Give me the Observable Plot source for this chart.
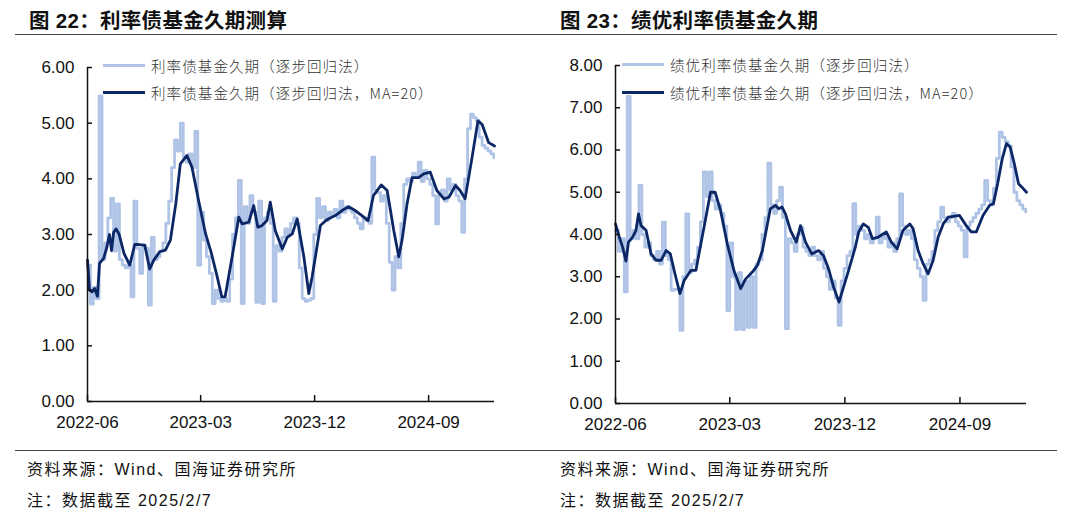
<!DOCTYPE html>
<html><head><meta charset="utf-8">
<script src="https://cdn.jsdelivr.net/npm/d3@7"></script>
<script src="https://cdn.jsdelivr.net/npm/@observablehq/plot@0.6"></script>
<style>
body{margin:0;background:#fff;width:1080px;height:522px;overflow:hidden;position:relative;font-family:"Liberation Sans","Noto Sans CJK SC",sans-serif;}
.title{position:absolute;top:4px;font-size:20.5px;font-weight:700;color:#111;white-space:nowrap;letter-spacing:0.3px;}
.rule{position:absolute;left:15px;width:1042px;height:0;border-top:1.5px solid #444;}
.src{position:absolute;font-size:16px;letter-spacing:1.5px;color:#111;white-space:nowrap;line-height:20px;}
.chart{position:absolute;top:40px;}
.leg{position:absolute;font-size:14.5px;letter-spacing:1.1px;color:#333;display:flex;align-items:center;white-space:nowrap;height:20px;font-family:"Noto Sans CJK SC","Liberation Sans",sans-serif;font-weight:300;}
.sw{display:inline-block;width:42px;height:3px;margin-right:6px;}
</style></head>
<body>
<div class="title" style="left:29px">图 22：利率债基金久期测算</div>
<div class="title" style="left:560px">图 23：绩优利率债基金久期</div>
<div class="rule" style="top:34px"></div>
<div class="rule" style="top:450px"></div>
<div id="c22" class="chart" style="left:0px"></div>
<div id="c23" class="chart" style="left:540px"></div>
<div id="leg22"></div><div id="leg23"></div>
<div class="src" style="left:27px;top:460px">资料来源：Wind、国海证券研究所</div>
<div class="src" style="left:27px;top:491px">注：数据截至 2025/2/7</div>
<div class="src" style="left:560px;top:460px">资料来源：Wind、国海证券研究所</div>
<div class="src" style="left:560px;top:491px">注：数据截至 2025/2/7</div>
<script>
const startDate = "2022-06-01";
const endDate = "2025-02-07";
const rawStepDays = 7;
const xTicks = ["2022-06-01","2023-03-01","2023-12-01","2024-09-01"];
const yTicks22 = [0,1,2,3,4,5,6];
const yTicks23 = [0,1,2,3,4,5,6,7,8];
const legend22 = ["利率债基金久期（逐步回归法）","利率债基金久期（逐步回归法，MA=20）"];
const legend23 = ["绩优利率债基金久期（逐步回归法）","绩优利率债基金久期（逐步回归法，MA=20）"];

// 图22 raw (weekly from startDate)
const raw22 = [2.45,1.75,2.05,1.85,5.49,2.55,2.85,3.30,3.65,2.70,
3.55,2.55,2.45,2.40,2.45,1.88,3.60,2.75,2.30,2.80,
2.75,1.73,2.95,2.55,2.60,2.70,2.85,3.20,3.60,4.20,
4.70,4.50,5.00,4.40,4.30,4.45,4.20,4.85,2.45,3.40,
2.90,2.60,2.30,1.76,2.00,1.85,1.80,1.85,1.80,2.20,
3.00,3.30,3.97,1.76,3.50,3.20,3.70,3.40,1.78,3.60,
1.76,3.30,3.40,3.20,1.80,2.80,2.70,2.95,3.10,3.00,
3.20,3.30,3.20,2.40,1.85,1.80,1.82,1.85,3.00,3.65,
3.30,3.50,3.25,3.40,3.35,3.45,3.30,3.60,3.40,3.50,
3.45,3.40,3.30,3.20,3.10,3.30,3.25,3.20,4.39,3.80,
3.75,3.60,3.70,3.20,2.50,2.00,2.60,2.40,3.20,3.90,
4.00,3.95,4.10,4.05,4.30,3.95,4.15,4.00,3.90,3.70,
3.19,3.70,3.80,3.60,4.00,3.80,3.90,3.70,3.60,3.04,
4.00,4.90,5.16,5.10,5.05,4.75,4.60,4.55,4.50,4.45,
4.38];
const maDates22 = ["2022-06-01","2022-06-06","2022-06-12","2022-06-18","2022-06-25","2022-06-30","2022-07-10","2022-07-18","2022-07-24","2022-07-29",
"2022-08-03","2022-08-09","2022-08-16","2022-08-28","2022-09-11","2022-09-23","2022-10-03","2022-10-17","2022-10-29","2022-11-08",
"2022-11-22","2022-12-06","2022-12-18","2022-12-31","2023-01-11","2023-01-27","2023-02-08","2023-02-24","2023-03-13","2023-03-27",
"2023-04-10","2023-04-21","2023-04-29","2023-05-16","2023-06-01","2023-06-09","2023-06-25","2023-07-07","2023-07-17","2023-07-27",
"2023-08-08","2023-08-16","2023-08-28","2023-09-14","2023-09-26","2023-10-08","2023-10-20","2023-11-05","2023-11-17","2023-11-25",
"2023-12-15","2023-12-28","2024-01-11","2024-01-20","2024-02-05","2024-02-21","2024-03-08","2024-03-24","2024-04-08","2024-04-21",
"2024-05-10","2024-05-24","2024-06-09","2024-06-21","2024-06-29","2024-07-11","2024-07-23","2024-08-08","2024-08-20","2024-09-05",
"2024-09-21","2024-10-08","2024-10-20","2024-11-05","2024-11-16","2024-11-28","2024-12-15","2024-12-29","2025-01-08","2025-01-24",
"2025-02-07"];
const ma22 = [2.54,2.00,1.97,2.03,1.89,2.48,2.57,2.78,3.00,2.71,
3.04,3.10,3.01,2.66,2.45,2.82,2.82,2.81,2.38,2.54,
2.69,2.72,2.90,3.55,4.27,4.42,4.21,3.61,3.01,2.66,
2.24,1.88,1.88,2.60,3.31,3.19,3.22,3.52,3.13,3.16,
3.25,3.58,3.07,2.74,2.95,3.01,3.28,2.60,1.94,2.24,
3.16,3.25,3.31,3.34,3.43,3.50,3.43,3.34,3.25,3.70,
3.89,3.79,3.07,2.60,2.90,3.55,4.02,4.02,4.09,4.12,
3.79,3.64,3.67,3.88,3.79,3.64,4.39,5.04,4.98,4.65,
4.59];

// 图23 raw (weekly from startDate)
const raw23 = [4.10,3.60,3.90,2.64,7.27,3.90,4.10,3.90,5.16,4.00,
3.70,3.80,3.50,3.40,3.60,3.30,4.29,3.50,3.40,2.68,
2.70,2.70,1.73,3.00,4.49,3.10,3.30,3.40,3.70,4.30,
5.48,4.90,5.48,4.80,4.60,4.70,4.50,4.20,2.20,3.80,
3.00,1.75,3.10,1.75,2.90,1.80,3.00,1.80,3.30,3.40,
4.00,4.40,5.69,4.70,4.50,4.80,5.12,4.40,1.77,3.90,
3.80,3.60,4.00,4.17,3.70,3.60,3.50,3.70,3.50,3.40,
3.60,3.20,3.00,2.70,2.90,2.50,1.85,2.90,3.20,3.50,
3.60,4.73,4.00,4.20,4.10,3.90,4.00,3.80,3.90,4.41,
3.80,4.00,3.90,3.70,3.80,3.60,3.90,4.96,4.20,4.00,
4.10,3.90,3.40,3.20,3.00,2.44,3.30,3.40,3.60,4.10,
4.30,4.65,4.40,4.30,4.40,4.50,4.30,4.20,4.10,3.47,
4.20,4.30,4.40,4.50,4.60,4.70,5.28,4.80,4.70,5.10,
5.80,6.42,6.30,6.20,6.10,5.60,5.00,4.80,4.70,4.60,
4.53];
const maDates23 = ["2022-06-01","2022-06-10","2022-06-18","2022-06-26","2022-07-02","2022-07-12","2022-07-20","2022-07-26","2022-08-01","2022-08-13",
"2022-08-25","2022-09-06","2022-09-18","2022-09-30","2022-10-10","2022-10-21","2022-11-02","2022-11-12","2022-11-28","2022-12-10",
"2022-12-22","2023-01-03","2023-01-14","2023-01-25","2023-02-07","2023-02-23","2023-03-11","2023-03-27","2023-04-08","2023-04-24",
"2023-05-06","2023-05-18","2023-05-30","2023-06-06","2023-06-18","2023-06-26","2023-07-04","2023-07-12","2023-07-24","2023-08-07",
"2023-08-17","2023-08-29","2023-09-13","2023-09-29","2023-10-11","2023-10-23","2023-11-04","2023-11-17","2023-11-28","2023-12-10",
"2023-12-26","2024-01-03","2024-01-14","2024-01-26","2024-02-05","2024-02-19","2024-03-09","2024-03-21","2024-04-04","2024-04-18",
"2024-05-04","2024-05-12","2024-05-24","2024-06-05","2024-06-17","2024-06-29","2024-07-11","2024-07-23","2024-08-04","2024-08-16",
"2024-08-31","2024-09-16","2024-09-28","2024-10-10","2024-10-26","2024-11-11","2024-11-20","2024-11-30","2024-12-11","2024-12-21",
"2024-12-30","2025-01-09","2025-01-19","2025-01-27","2025-02-07"];
const ma23 = [4.25,3.94,3.70,3.37,3.82,3.94,4.10,4.49,4.21,4.10,
3.54,3.39,3.39,3.62,3.54,3.07,2.60,2.91,3.15,3.15,
3.78,4.41,5.00,5.00,4.57,3.78,3.15,2.72,2.95,3.11,
3.27,3.62,4.25,4.61,4.69,4.61,4.65,4.49,4.10,3.82,
4.21,3.82,3.54,3.62,3.50,3.19,2.76,2.40,2.76,3.15,
3.70,4.06,4.25,4.17,3.90,3.94,4.06,3.82,3.66,4.10,
4.25,4.14,3.62,3.31,3.07,3.39,3.94,4.25,4.41,4.43,
4.45,4.21,4.06,4.06,4.45,4.69,4.73,5.20,5.79,6.15,
6.07,5.67,5.20,5.12,5.00];

const LIGHT = "#AEC3E6", DARK = "#0C2766";

function makeChart({raw, maDates, ma, yTicks, mL, mR, mT, mB}) {
  const s = new Date(startDate), e = new Date(endDate);
  const rawData = raw.map((v, i) => ({date: d3.utcDay.offset(s, i * rawStepDays), v}));
  const maData = maDates.map((d, i) => ({date: new Date(d), v: ma[i]}));
  return Plot.plot({
    width: 540, height: 410,
    marginLeft: mL, marginRight: mR, marginTop: mT, marginBottom: mB,
    x: {type: "utc", domain: [s, e]},
    y: {domain: [0, d3.max(yTicks)]},
    style: {fontFamily: "Liberation Sans, Arial, sans-serif", fontSize: "17px", color: "#111", background: "transparent", overflow: "visible"},
    marks: [
      Plot.line(rawData, {x: "date", y: "v", stroke: LIGHT, strokeWidth: 2.8, curve: "step-after"}),
      Plot.line(maData, {x: "date", y: "v", stroke: DARK, strokeWidth: 2.8}),
      Plot.axisY({ticks: yTicks, tickFormat: d => d.toFixed(2), tickSize: -5, tickPadding: 18, strokeWidth: 1.5, label: null}),
      Plot.axisX({ticks: xTicks.map(d => new Date(d)), tickFormat: d3.utcFormat("%Y-%m"), tickSize: -6, tickPadding: 20, strokeWidth: 1.5, label: null}),
      Plot.ruleX([s], {stroke: "#111", strokeWidth: 1.5}),
      Plot.ruleY([0], {stroke: "#111", strokeWidth: 1.5})
    ]
  });
}

document.getElementById("c22").append(makeChart({raw: raw22, maDates: maDates22, ma: ma22, yTicks: yTicks22, mL: 87, mR: 46, mT: 27, mB: 49}));
document.getElementById("c23").append(makeChart({raw: raw23, maDates: maDates23, ma: ma23, yTicks: yTicks23, mL: 75, mR: 54, mT: 25, mB: 47}));

function legend(id, labels, left, tops) {
  const el = document.getElementById(id);
  [LIGHT, DARK].forEach((c, i) => {
    const row = document.createElement("div");
    row.className = "leg";
    row.style.left = left + "px";
    row.style.top = (tops[i] - 10) + "px";
    row.innerHTML = `<span class="sw" style="background:${c}"></span><span>${labels[i]}</span>`;
    el.append(row);
  });
}
legend("leg22", legend22, 103, [65, 92]);
legend("leg23", legend23, 622, [64, 92]);
</script>
</body></html>
